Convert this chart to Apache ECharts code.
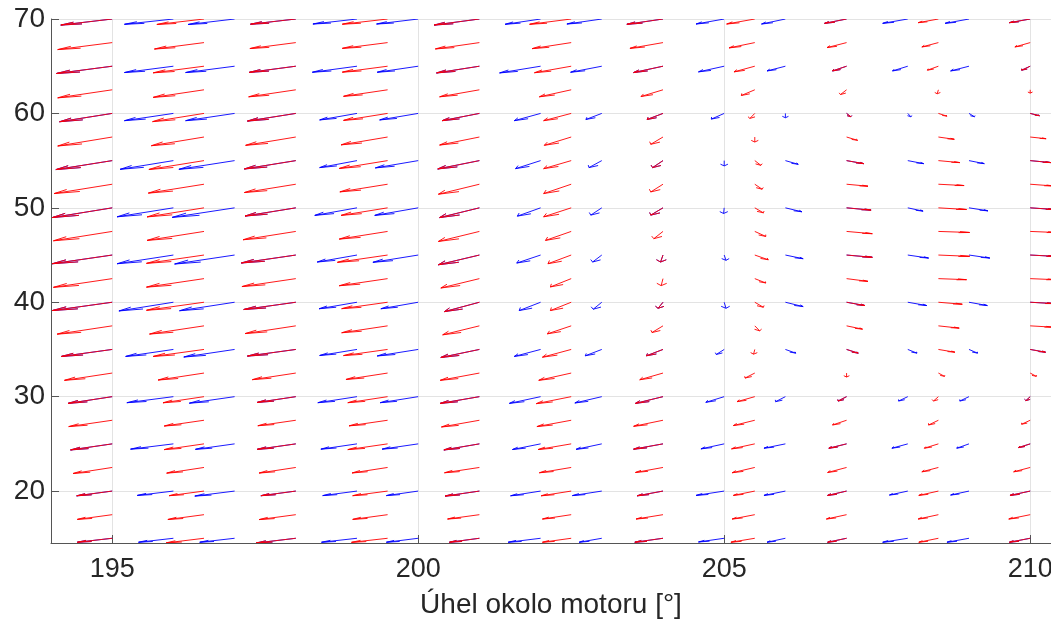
<!DOCTYPE html>
<html><head><meta charset="utf-8">
<script src="https://cdn.jsdelivr.net/npm/echarts@6/dist/echarts.min.js"></script>
<style>html,body{margin:0;padding:0;background:#fff}#c{width:1051px;height:620px}</style>
</head><body><div id="c"></div>
<script>
// Red quiver grid (tails), rows top->bottom
const redX = [195,196.5,198,199.5,201,202.5,204,205.5,207,208.5,210];
const redY = [70,67.5,65,62.5,60,57.5,55,52.5,50,47.5,45,42.5,40,37.5,35,32.5,30,27.5,25,22.5,20,17.5,15];
const redU = [
[-0.84,-0.77,-0.74,-0.74,-0.74,-0.68,-0.59,-0.46,-0.36,-0.33,-0.34],
[-0.89,-0.81,-0.75,-0.74,-0.72,-0.64,-0.54,-0.42,-0.32,-0.27,-0.25],
[-0.91,-0.83,-0.76,-0.74,-0.70,-0.60,-0.48,-0.34,-0.23,-0.18,-0.14],
[-0.89,-0.83,-0.77,-0.72,-0.65,-0.52,-0.36,-0.22,-0.10,-0.02,0.00],
[-0.86,-0.84,-0.79,-0.72,-0.61,-0.45,-0.26,-0.08,0.07,0.14,0.15],
[-0.89,-0.86,-0.82,-0.76,-0.65,-0.44,-0.20,0.00,0.18,0.26,0.26],
[-0.92,-0.90,-0.84,-0.79,-0.68,-0.45,-0.17,0.10,0.28,0.35,0.34],
[-0.95,-0.91,-0.84,-0.78,-0.67,-0.45,-0.20,0.12,0.35,0.42,0.37],
[-0.98,-0.93,-0.83,-0.76,-0.65,-0.45,-0.20,0.14,0.40,0.46,0.41],
[-0.96,-0.93,-0.86,-0.79,-0.67,-0.42,-0.15,0.18,0.42,0.51,0.42],
[-0.98,-0.94,-0.89,-0.82,-0.67,-0.38,-0.04,0.22,0.42,0.51,0.42],
[-0.96,-0.94,-0.88,-0.79,-0.63,-0.34,-0.03,0.18,0.35,0.46,0.41],
[-0.98,-0.94,-0.85,-0.75,-0.57,-0.34,-0.08,0.14,0.30,0.39,0.39],
[-0.90,-0.89,-0.83,-0.75,-0.60,-0.39,-0.18,0.08,0.26,0.34,0.37],
[-0.83,-0.83,-0.79,-0.72,-0.63,-0.47,-0.27,-0.02,0.19,0.27,0.25],
[-0.78,-0.75,-0.71,-0.68,-0.64,-0.53,-0.38,-0.16,0.00,0.10,0.10],
[-0.72,-0.67,-0.63,-0.65,-0.64,-0.57,-0.45,-0.29,-0.14,-0.08,-0.07],
[-0.71,-0.65,-0.62,-0.63,-0.62,-0.56,-0.48,-0.35,-0.23,-0.16,-0.14],
[-0.68,-0.65,-0.63,-0.65,-0.58,-0.54,-0.48,-0.38,-0.29,-0.23,-0.19],
[-0.64,-0.61,-0.60,-0.58,-0.57,-0.52,-0.45,-0.37,-0.31,-0.27,-0.27],
[-0.58,-0.57,-0.57,-0.57,-0.56,-0.49,-0.42,-0.35,-0.31,-0.32,-0.33],
[-0.57,-0.59,-0.60,-0.57,-0.52,-0.47,-0.44,-0.37,-0.33,-0.33,-0.35],
[-0.57,-0.62,-0.65,-0.59,-0.49,-0.47,-0.46,-0.39,-0.31,-0.32,-0.34]
];
const redV = [
[-0.64,-0.58,-0.55,-0.55,-0.64,-0.56,-0.56,-0.53,-0.46,-0.39,-0.39],
[-0.74,-0.68,-0.63,-0.61,-0.67,-0.64,-0.61,-0.56,-0.53,-0.46,-0.46],
[-0.77,-0.70,-0.65,-0.63,-0.71,-0.69,-0.67,-0.60,-0.50,-0.42,-0.42],
[-0.85,-0.80,-0.74,-0.69,-0.74,-0.74,-0.71,-0.60,-0.50,-0.42,-0.35],
[-0.88,-0.87,-0.81,-0.74,-0.77,-0.77,-0.64,-0.53,-0.35,-0.29,-0.24],
[-0.95,-0.92,-0.88,-0.83,-0.85,-0.88,-0.77,-0.53,-0.35,-0.24,-0.18],
[-0.95,-0.94,-0.88,-0.83,-0.88,-0.85,-0.74,-0.50,-0.32,-0.21,-0.21],
[-0.99,-0.94,-0.88,-0.81,-1.06,-0.99,-0.82,-0.53,-0.21,-0.14,-0.18],
[-1.03,-0.96,-0.87,-0.80,-1.03,-0.95,-0.77,-0.53,-0.24,-0.18,-0.18],
[-0.99,-0.95,-0.88,-0.81,-1.06,-0.95,-0.77,-0.53,-0.24,-0.11,-0.11],
[-0.92,-0.88,-0.84,-0.77,-1.03,-0.92,-0.74,-0.50,-0.24,-0.14,-0.14],
[-0.92,-0.90,-0.84,-0.75,-0.99,-0.88,-0.74,-0.46,-0.29,-0.11,-0.11],
[-0.88,-0.85,-0.77,-0.68,-0.99,-0.88,-0.64,-0.53,-0.35,-0.21,-0.14],
[-0.88,-0.87,-0.82,-0.73,-0.95,-0.85,-0.71,-0.53,-0.35,-0.24,-0.14],
[-0.74,-0.74,-0.70,-0.65,-0.85,-0.82,-0.67,-0.50,-0.39,-0.29,-0.29],
[-0.77,-0.74,-0.70,-0.68,-0.77,-0.77,-0.71,-0.53,-0.42,-0.35,-0.35],
[-0.71,-0.65,-0.61,-0.64,-0.71,-0.74,-0.71,-0.53,-0.46,-0.46,-0.42],
[-0.67,-0.61,-0.58,-0.59,-0.71,-0.67,-0.64,-0.56,-0.50,-0.50,-0.42],
[-0.64,-0.61,-0.58,-0.61,-0.64,-0.60,-0.56,-0.53,-0.46,-0.46,-0.39],
[-0.64,-0.60,-0.59,-0.58,-0.56,-0.56,-0.53,-0.56,-0.53,-0.46,-0.46],
[-0.50,-0.49,-0.49,-0.49,-0.53,-0.50,-0.50,-0.46,-0.46,-0.46,-0.46],
[-0.50,-0.51,-0.52,-0.50,-0.46,-0.46,-0.46,-0.46,-0.46,-0.46,-0.46],
[-0.42,-0.49,-0.50,-0.43,-0.42,-0.42,-0.42,-0.42,-0.42,-0.42,-0.42]
];
// Blue quiver grid (tails), rows top->bottom
const blueX = [195,196,197,198,199,200,201,202,203,204,205,206,207,208,209,210];
const blueY = [70,65,60,55,50,45,40,35,30,25,20,15];
const blueU = [
[-0.84,-0.80,-0.76,-0.74,-0.72,-0.68,-0.74,-0.58,-0.57,-0.59,-0.46,-0.39,-0.36,-0.41,-0.39,-0.34],
[-0.91,-0.80,-0.80,-0.76,-0.73,-0.67,-0.70,-0.67,-0.51,-0.48,-0.42,-0.30,-0.23,-0.25,-0.30,-0.14],
[-0.86,-0.80,-0.80,-0.79,-0.61,-0.63,-0.61,-0.43,-0.26,-0.26,-0.21,0.00,0.07,0.05,0.09,0.15],
[-0.92,-0.87,-0.91,-0.84,-0.61,-0.70,-0.68,-0.41,-0.21,-0.17,0.00,0.21,0.28,0.26,0.25,0.34],
[-0.98,-0.92,-1.02,-0.83,-0.69,-0.71,-0.65,-0.38,-0.18,-0.20,-0.01,0.27,0.40,0.25,0.31,0.41],
[-0.98,-0.92,-0.98,-0.89,-0.65,-0.74,-0.67,-0.39,-0.15,-0.04,0.03,0.29,0.42,0.34,0.34,0.42],
[-0.98,-0.89,-0.90,-0.85,-0.62,-0.61,-0.57,-0.35,-0.14,-0.08,0.03,0.29,0.30,0.31,0.30,0.39],
[-0.83,-0.78,-0.83,-0.79,-0.61,-0.67,-0.63,-0.43,-0.27,-0.27,-0.13,0.17,0.19,0.15,0.14,0.25],
[-0.72,-0.76,-0.74,-0.63,-0.64,-0.62,-0.64,-0.51,-0.44,-0.45,-0.30,-0.16,-0.14,-0.15,-0.15,-0.07],
[-0.68,-0.70,-0.64,-0.63,-0.59,-0.59,-0.58,-0.46,-0.42,-0.48,-0.38,-0.35,-0.29,-0.26,-0.20,-0.19],
[-0.58,-0.59,-0.65,-0.57,-0.56,-0.52,-0.56,-0.49,-0.48,-0.42,-0.46,-0.35,-0.31,-0.30,-0.30,-0.33],
[-0.57,-0.57,-0.57,-0.65,-0.58,-0.52,-0.49,-0.53,-0.37,-0.46,-0.42,-0.30,-0.31,-0.41,-0.36,-0.34]
];
const blueV = [
[-0.64,-0.56,-0.58,-0.55,-0.53,-0.53,-0.64,-0.56,-0.53,-0.56,-0.53,-0.53,-0.46,-0.46,-0.46,-0.39],
[-0.77,-0.67,-0.67,-0.65,-0.64,-0.64,-0.71,-0.71,-0.64,-0.67,-0.60,-0.50,-0.50,-0.50,-0.50,-0.42],
[-0.88,-0.77,-0.77,-0.81,-0.69,-0.69,-0.77,-0.77,-0.64,-0.64,-0.60,-0.46,-0.35,-0.35,-0.35,-0.24],
[-0.95,-0.92,-0.92,-0.88,-0.74,-0.77,-0.88,-0.85,-0.74,-0.74,-0.56,-0.39,-0.32,-0.32,-0.32,-0.21],
[-1.03,-0.95,-1.01,-0.87,-0.80,-0.80,-1.03,-0.88,-0.77,-0.77,-0.60,-0.42,-0.24,-0.35,-0.32,-0.18],
[-0.92,-0.92,-0.95,-0.84,-0.74,-0.77,-1.03,-0.85,-0.74,-0.74,-0.56,-0.39,-0.24,-0.32,-0.32,-0.14],
[-0.88,-0.92,-0.90,-0.77,-0.69,-0.69,-0.99,-0.88,-0.74,-0.64,-0.64,-0.46,-0.35,-0.35,-0.35,-0.14],
[-0.74,-0.74,-0.80,-0.70,-0.64,-0.69,-0.85,-0.74,-0.67,-0.67,-0.53,-0.39,-0.39,-0.39,-0.39,-0.29],
[-0.71,-0.64,-0.69,-0.61,-0.64,-0.64,-0.71,-0.71,-0.67,-0.71,-0.60,-0.53,-0.46,-0.46,-0.46,-0.42],
[-0.64,-0.56,-0.58,-0.58,-0.56,-0.56,-0.64,-0.60,-0.58,-0.56,-0.53,-0.46,-0.46,-0.46,-0.46,-0.39],
[-0.50,-0.46,-0.53,-0.49,-0.48,-0.48,-0.53,-0.50,-0.48,-0.50,-0.46,-0.46,-0.46,-0.42,-0.42,-0.46],
[-0.42,-0.42,-0.42,-0.50,-0.42,-0.42,-0.42,-0.42,-0.42,-0.42,-0.39,-0.42,-0.42,-0.42,-0.42,-0.42]
];
const xTitle = 'Úhel okolo motoru [°]';

function toData(xs, ys, U, V) {
  const out = [];
  ys.forEach((y, r) => xs.forEach((x, c) => out.push([x, y, U[r][c], V[r][c]])));
  return out;
}
function arrowRenderer(color) {
  return function (params, api) {
    const x = api.value(0), y = api.value(1), u = api.value(2), v = api.value(3);
    const a = 0.33, b = 0.33;
    const p0 = api.coord([x, y]);
    const p1 = api.coord([x + u, y + v]);
    const h1 = api.coord([x + u - a * (u + b * v), y + v - a * (v - b * u)]);
    const h2 = api.coord([x + u - a * (u - b * v), y + v - a * (v + b * u)]);
    return {
      type: 'group',
      children: [
        { type: 'line', shape: { x1: p0[0], y1: p0[1], x2: p1[0], y2: p1[1] },
          style: { stroke: color, lineWidth: 0.9 } },
        { type: 'polyline', shape: { points: [h1, p1, h2] },
          style: { stroke: color, fill: null, lineWidth: 0.9 } }
      ]
    };
  };
}
const FONT = '"Liberation Sans", Arial, Helvetica, sans-serif';
const chart = echarts.init(document.getElementById('c'), null, { renderer: 'canvas' });
chart.setOption({
  animation: false,
  backgroundColor: '#ffffff',
  grid: { left: 51, right: 0, top: 19, bottom: 77, containLabel: false, outerBoundsMode: 'none' },
  xAxis: {
    type: 'value', min: 194, max: 210.34, splitNumber: 3,
    name: xTitle, nameLocation: 'middle', nameGap: 48,
    nameTextStyle: { fontSize: 28, color: '#262626', fontFamily: FONT },
    axisLine: { show: true, onZero: false, lineStyle: { color: '#555', width: 1 } },
    axisTick: { show: true, inside: true, length: 8, lineStyle: { color: '#555' } },
    axisLabel: { showMinLabel: false, showMaxLabel: false, fontSize: 27, color: '#262626', margin: 13, fontFamily: FONT },
    splitLine: { show: true, showMinLine: false, showMaxLine: false, lineStyle: { color: '#e3e3e3', width: 1 } }
  },
  yAxis: {
    type: 'value', min: 14.5, max: 70, splitNumber: 5,
    axisLine: { show: true, onZero: false, lineStyle: { color: '#555', width: 1 } },
    axisTick: { show: true, inside: true, length: 8, lineStyle: { color: '#555' } },
    axisLabel: { showMinLabel: false, fontSize: 28, color: '#262626', margin: 6, fontFamily: FONT },
    splitLine: { show: true, showMinLine: false, lineStyle: { color: '#e3e3e3', width: 1 } }
  },
  series: [
    { type: 'custom', name: 'blue', clip: true, renderItem: arrowRenderer('#0000ff'),
      encode: { x: 0, y: 1 }, data: toData(blueX, blueY, blueU, blueV), z: 2 },
    { type: 'custom', name: 'red', clip: true, renderItem: arrowRenderer('#ff0000'),
      encode: { x: 0, y: 1 }, data: toData(redX, redY, redU, redV), z: 3 }
  ]
});
</script>
</body></html>
